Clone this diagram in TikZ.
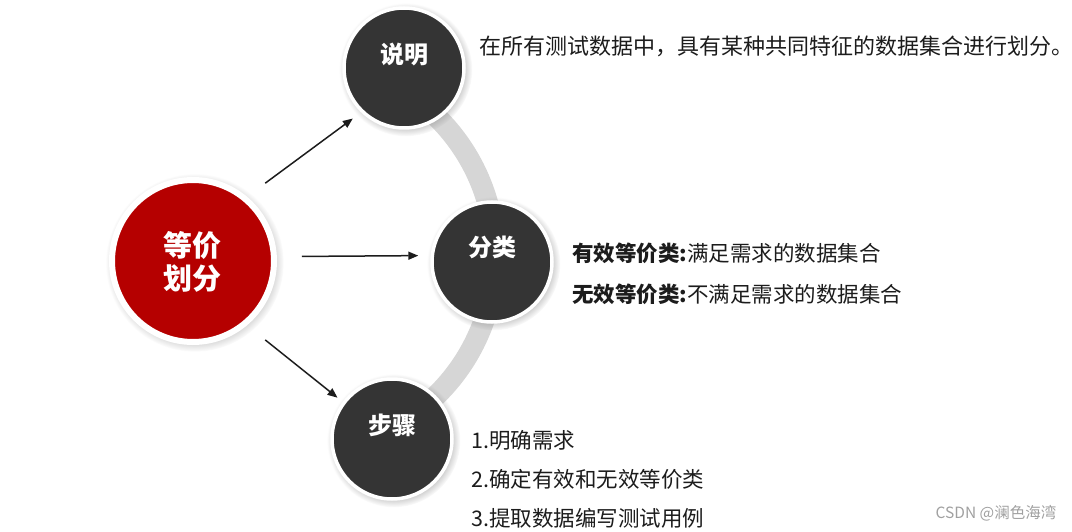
\documentclass[tikz,border=0pt]{standalone}
\usepackage{fontspec}
\setmainfont{Noto Sans CJK SC}
\usepackage{xcolor}
\usepackage{tikz}
\usetikzlibrary{arrows.meta,positioning,calc,shadows}
\definecolor{hubred}{RGB}{181, 0, 0}
\definecolor{coaldark}{RGB}{52, 52, 52}
\definecolor{arcgrey}{RGB}{214, 214, 214}
\definecolor{inkblack}{RGB}{28, 28, 28}
\definecolor{markgrey}{RGB}{160, 160, 160}

\begin{document}
\begin{tikzpicture}[x=1pt,y=-1pt,
    hub/.style={circle,fill=hubred,draw=white,line width=6pt,minimum size=162pt,
      circular drop shadow={shadow scale=1.1,opacity=0.45,shadow xshift=1.5pt,shadow yshift=-1.5pt}},
    topic/.style={circle,fill=coaldark,draw=white,line width=3.5pt,minimum size=120pt,
      circular drop shadow={shadow scale=1.11,opacity=0.45,shadow xshift=1.5pt,shadow yshift=-1.5pt}},
    topiclbl/.style={text=white,font=\fontsize{24}{28}\selectfont\bfseries},
    desc/.style={anchor=west,text=inkblack,inner sep=0pt,font=\fontsize{21.5}{25}\selectfont},
    arr/.style={-{Triangle[length=10pt,width=8pt]},line width=1.5pt,inkblack}]
    \useasboundingbox (0,0) rectangle (1072,532);

    % grey band behind the three topics
    \coordinate (bandc) at (300,256);
    \draw[arcgrey,line width=21pt] (bandc) ++(-53:195) arc[start angle=-53,end angle=52,radius=195];

    % hub and topics
    \node[hub] (hub) at (193,261) {};
    \node[text=white,align=center,font=\fontsize{29}{33}\selectfont\bfseries] (hubtxt) at (192,262) {等价\\划分};
    \node[topic] (expl) at (404,68) {};
    \node[topiclbl] (expltxt) at ([yshift=13pt]expl.center) {说明};
    \node[topic] (cls) at (492,262) {};
    \node[topiclbl] (clstxt) at ([yshift=15pt]cls.center) {分类};
    \node[topic] (steps) at (392,439) {};
    \node[topiclbl] (stepstxt) at ([yshift=14pt]steps.center) {步骤};

    % arrows
    \draw[arr,shorten <=22.7pt,shorten >=10.3pt] (hub.50) -- (expl.226);
    \draw[arr,shorten <=25pt,shorten >=12.3pt] (hub.3.4) -- (cls.174.4);
    \draw[arr,shorten <=23.3pt,shorten >=6.6pt] (hub.-50) -- (steps.143.5);

    % texts
    \node[desc,font=\fontsize{22}{26}\selectfont] (expldesc) at (479,46) {在所有测试数据中，具有某种共同特征的数据集合进行划分。};
    \node[desc] (validdesc) at (572,253) {{\bfseries 有效等价类:}满足需求的数据集合};
    \node[desc] (invaliddesc) at (572,294) {{\bfseries 无效等价类:}不满足需求的数据集合};
    \node[desc] (stepone) at (471,440) {1.明确需求};
    \node[desc] (steptwo) at (471,479) {2.确定有效和无效等价类};
    \node[desc] (stepthree) at (471,518) {3.提取数据编写测试用例};

    % watermark
    \node[text=markgrey,font=\fontsize{15.5}{18}\selectfont] (mark) at (996,513) {CSDN @澜色海湾};
\end{tikzpicture}
\end{document}
